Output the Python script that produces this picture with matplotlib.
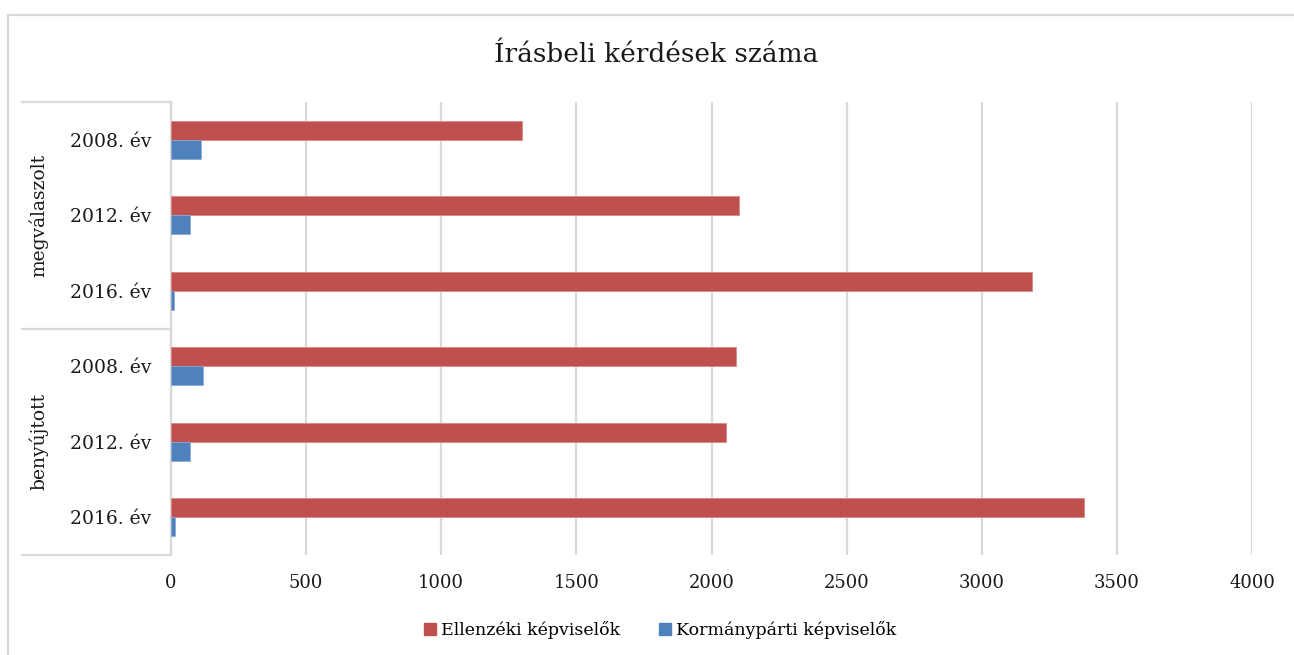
import numpy as np
import matplotlib.pyplot as plt
from matplotlib.lines import Line2D

groups = ['megválaszolt', 'benyújtott']
years = ['2008. év', '2012. év', '2016. év']
ellenzeki = [1300, 2100, 3185, 2090, 2052, 3380]
kormanyparti = [110, 70, 12, 120, 70, 14]
series_names = ['Ellenzéki képviselők', 'Kormánypárti képviselők']
colors = ['#C0504D', '#4F81BD']

plt.rcParams['font.family'] = ['DejaVu Serif']

W, H = 1294, 655
fig = plt.figure(figsize=(W / 100, H / 100), dpi=100)

# plot area in pixels
x0, x1, ytop, ybot = 171, 1252, 102, 555
ax = fig.add_axes([x0 / W, 1 - ybot / H, (x1 - x0) / W, (ybot - ytop) / H])

labels = years * len(groups)
pos = np.arange(len(labels))
h = 0.25
ax.barh(pos - h / 2, ellenzeki, height=h, color=colors[0], edgecolor='#d98a88', linewidth=0.6, zorder=3)
ax.barh(pos + h / 2, kormanyparti, height=h, color=colors[1], edgecolor='#8aa9d4', linewidth=0.6, zorder=3)

ax.set_xlim(0, 4000)
ax.set_ylim(len(labels) - 0.5, -0.5)
ax.set_xticks(np.arange(0, 4001, 500))
ax.set_yticks(pos)
ax.set_yticklabels(labels)
ax.tick_params(axis='y', length=0, pad=14, labelsize=13.5, colors='#1a1a1a')
ax.tick_params(axis='x', length=0, pad=14, labelsize=13, colors='#1a1a1a')
ax.grid(axis='x', color='#d9d9d9', linewidth=1.6, zorder=0)
for s in ['top', 'right', 'bottom']:
    ax.spines[s].set_visible(False)
ax.spines['left'].set_color('#d9d9d9')
ax.spines['left'].set_linewidth(1.6)

# multi-level category separators
xl = -(x0 - 22) / (x1 - x0)
for yy in [0, 0.5, 1]:
    ax.add_line(Line2D([xl, 0], [yy, yy], transform=ax.transAxes, color='#d9d9d9', lw=1.6, clip_on=False))
for i, g in enumerate(groups):
    ax.text(xl + 0.0155, 0.75 - 0.5 * i, g, transform=ax.transAxes, rotation=90,
            ha='center', va='center', fontsize=13.5, color='#1a1a1a')

# chart frame
fig.add_artist(Line2D([8 / W, 1], [1 - 15 / H, 1 - 15 / H], color='#d9d9d9', lw=1.6))
fig.add_artist(Line2D([8 / W, 8 / W], [0, 1 - 15 / H], color='#d9d9d9', lw=1.6))

fig.text(656 / W, 1 - 55 / H, 'Írásbeli kérdések száma', ha='center', va='center',
         fontsize=19, color='#1a1a1a')

handles = [plt.Rectangle((0, 0), 1, 1, color=c) for c in colors]
fig.legend(handles, series_names, loc='center', bbox_to_anchor=(660 / W, 1 - 630 / H),
           ncol=2, frameon=False, fontsize=12.5, handlelength=0.7, handleheight=0.7,
           handletextpad=0.3, columnspacing=2.2)

fig.savefig('out.png', dpi=100)
